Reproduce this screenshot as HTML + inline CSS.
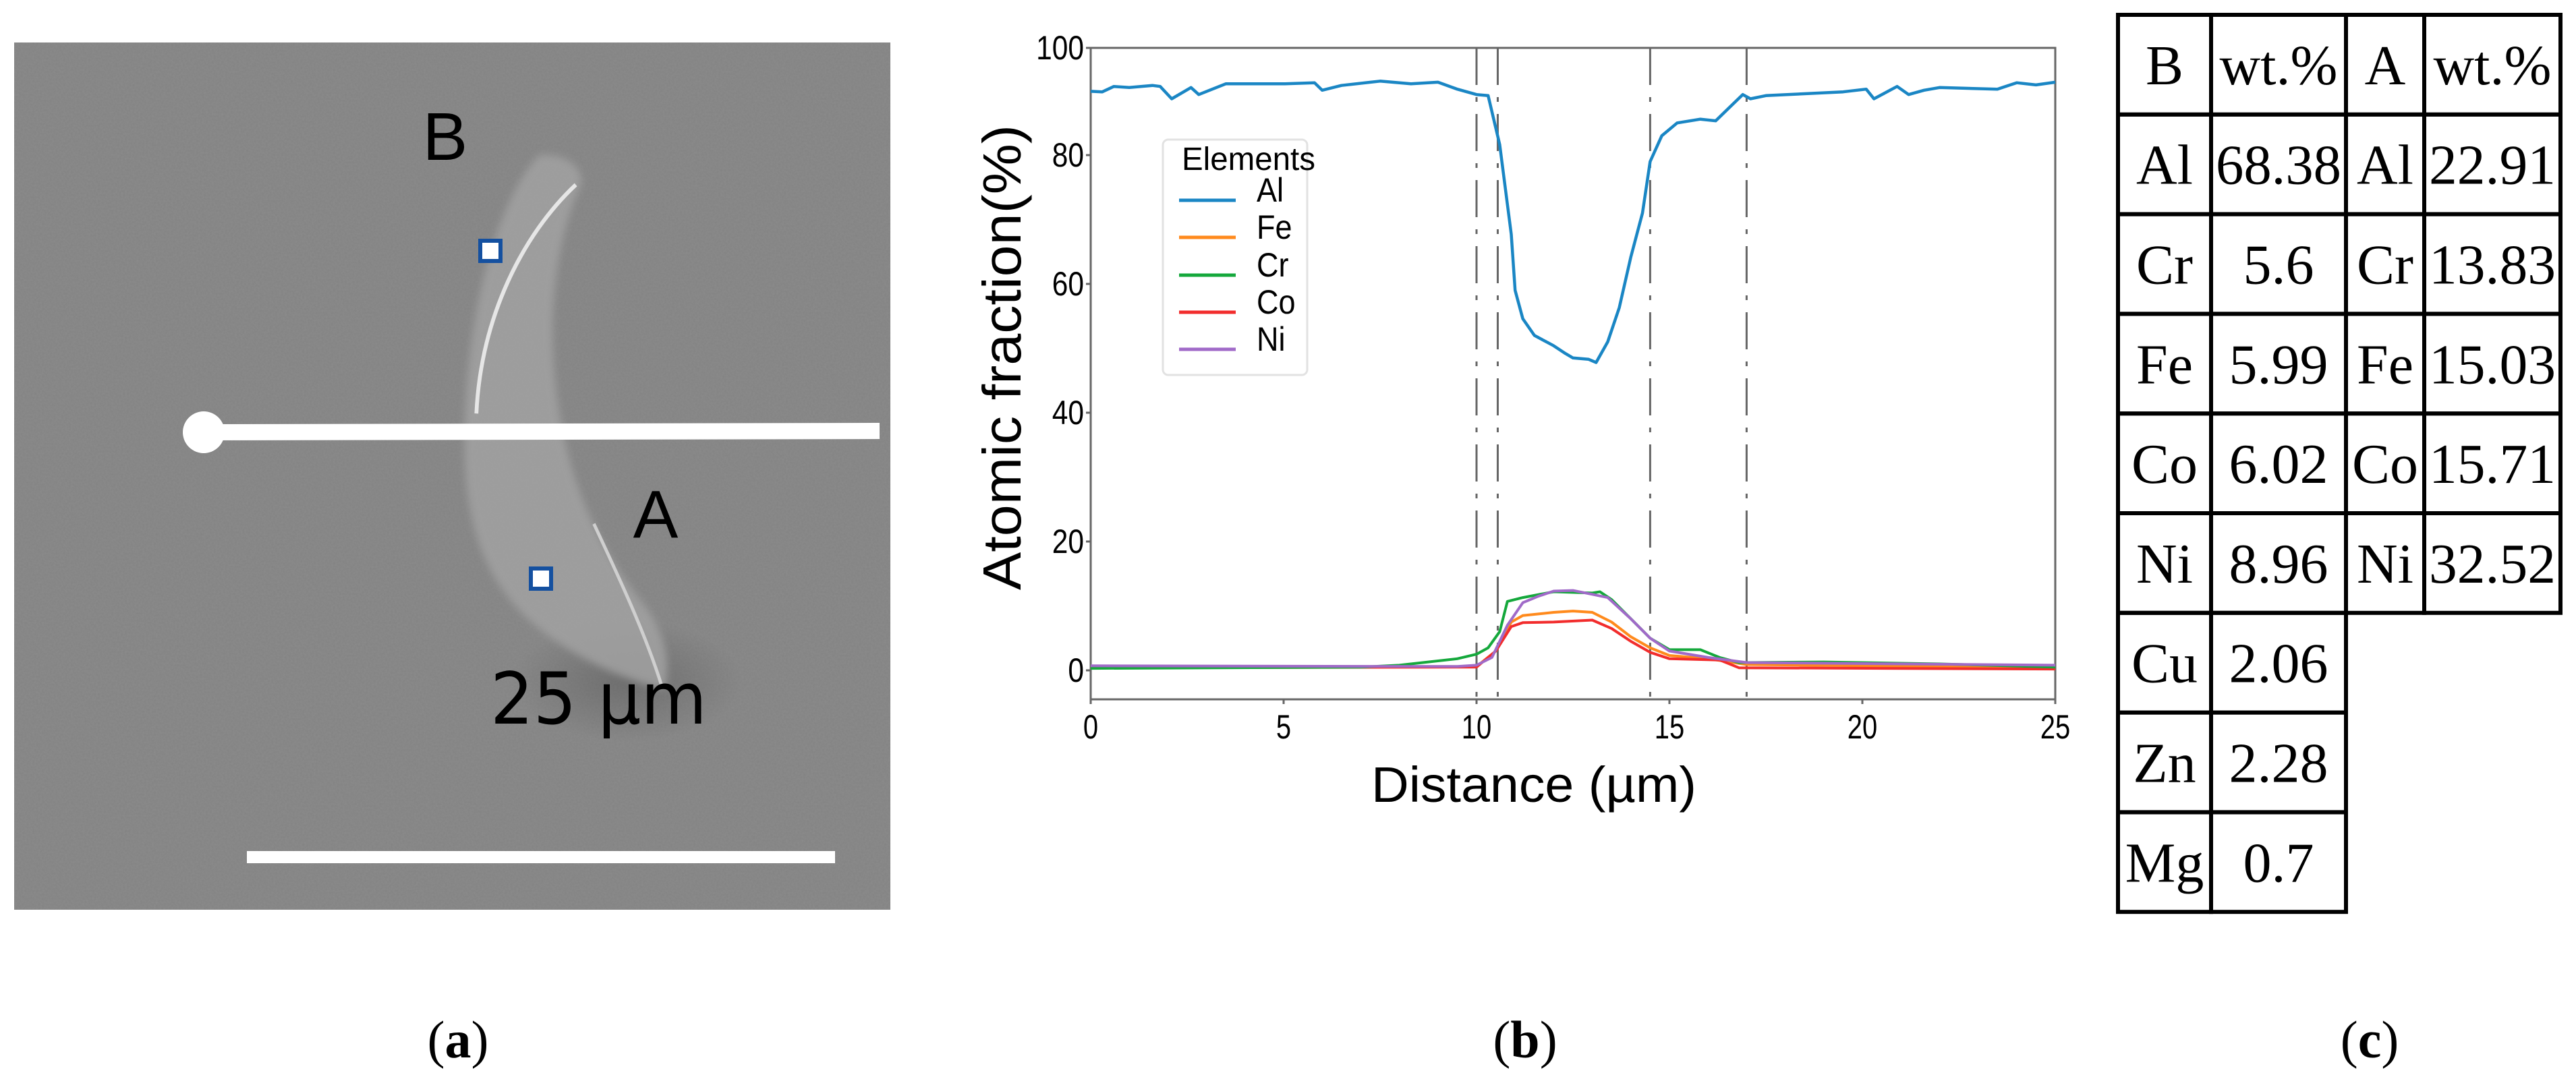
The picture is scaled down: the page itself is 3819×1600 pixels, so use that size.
<!DOCTYPE html>
<html><head><meta charset="utf-8">
<style>
html,body{margin:0;padding:0;background:#fff;}
svg{display:block;}
</style></head>
<body>
<svg id="fig" width="3819" height="1600" viewBox="0 0 3819 1600" xmlns="http://www.w3.org/2000/svg">
  <g>
    <defs>
      <filter id="noise" x="0" y="0" width="100%" height="100%">
        <feTurbulence type="fractalNoise" baseFrequency="0.35" numOctaves="2" seed="3" result="n"/>
        <feColorMatrix type="matrix" values="0 0 0 0 0.5  0 0 0 0 0.5  0 0 0 0 0.5  0 0 0 0.25 0" in="n" result="g"/>
      </filter>
      <radialGradient id="shadow" cx="0.5" cy="0.5" r="0.5">
        <stop offset="0" stop-color="#555" stop-opacity="0.5"/>
        <stop offset="1" stop-color="#555" stop-opacity="0"/>
      </radialGradient>
      <filter id="blur"><feGaussianBlur stdDeviation="6"/></filter>
    </defs>
    <rect x="21" y="63" width="1299" height="1286" fill="#838383"/>
    <rect x="21" y="63" width="1299" height="1286" filter="url(#noise)" opacity="0.6"/>
    <ellipse cx="930" cy="1010" rx="170" ry="90" fill="url(#shadow)"/>
    <g transform="scale(0.957,1.022)">
      <path d="M835,225 C880,222 905,245 900,268 C870,330 850,420 858,530 C870,690 930,800 1000,880 C1030,920 1040,960 1030,1000 C960,985 880,950 820,900 C740,830 715,740 720,610 C725,450 770,290 835,225 Z" fill="#a2a2a2" opacity="0.85" filter="url(#blur)"/>
      <path d="M892,268 C810,340 745,460 738,600" fill="none" stroke="#e6e6e6" stroke-width="6"/>
      <path d="M920,760 C960,840 1000,920 1025,995" fill="none" stroke="#cfcfcf" stroke-width="5"/>
    </g>
    <line x1="302" y1="641" x2="1304" y2="639" stroke="#fff" stroke-width="24"/>
    <circle cx="302" cy="641" r="31" fill="#fff"/>
    <rect x="712" y="357" width="30" height="30" fill="#fff" stroke="#1450a0" stroke-width="6"/>
    <rect x="787" y="843" width="30" height="30" fill="#fff" stroke="#1450a0" stroke-width="6"/>
    <text x="660" y="237" font-family="Liberation Sans, sans-serif" font-size="100" text-anchor="middle" fill="#000">B</text>
    <text x="972" y="797" font-family="Liberation Sans, sans-serif" font-size="100" text-anchor="middle" fill="#000">A</text>
    <text x="727" y="1073" font-family="DejaVu Sans, sans-serif" font-size="106" textLength="321" lengthAdjust="spacingAndGlyphs" fill="#000">25 µm</text>
    <rect x="366" y="1262" width="872" height="18" fill="#fff"/>
    <text x="679" y="1568" font-family="Liberation Serif, serif" font-size="78" text-anchor="middle">(<tspan font-weight="bold">a</tspan>)</text>
  </g>

  <g id="chart"></g>
  <text x="2261" y="1568" font-family="Liberation Serif, serif" font-size="78" text-anchor="middle">(<tspan font-weight="bold">b</tspan>)</text>

  <g id="table"></g>
  <text x="3513" y="1568" font-family="Liberation Serif, serif" font-size="78" text-anchor="middle">(<tspan font-weight="bold">c</tspan>)</text>
</svg>
<script>
const xTicks = [0, 5, 10, 15, 20, 25];
const yTicks = [0, 20, 40, 60, 80, 100];
const boundaries = [10.0, 10.55, 14.5, 17.0];
const seriesNames = ["Al", "Fe", "Cr", "Co", "Ni"];
const seriesColors = ["#1a86c4", "#ff8a1c", "#15a83c", "#f22d2d", "#a06ac8"];
const alX = [0,0.3,0.6,1.0,1.6,1.8,2.1,2.6,2.8,3.5,4,5,5.8,6.0,6.5,7.5,8.3,9.0,9.5,10.0,10.3,10.6,10.9,11.0,11.2,11.5,12.0,12.3,12.5,12.9,13.1,13.4,13.7,14.0,14.3,14.5,14.8,15.2,15.8,16.2,16.6,16.9,17.1,17.5,19.5,20.1,20.3,20.9,21.2,21.6,22,23.5,24.0,24.5,25];
const alY = [91.9,91.8,92.8,92.6,93.0,92.8,90.5,92.6,91.3,93.3,93.3,93.3,93.5,92.1,93.0,93.8,93.3,93.6,92.3,91.3,91.1,82,67.7,59,54.6,52,50.4,49.2,48.5,48.3,47.8,51,56.3,64.2,71,79,83.6,86,86.7,86.4,89.2,91.3,90.5,91.1,91.8,92.3,90.5,92.8,91.3,92.1,92.6,92.3,93.5,93.1,93.6];
const crX = [0,7,8,9.5,10,10.3,10.6,10.8,11.2,12,13,13.2,13.5,14,14.5,15,15.8,16.3,16.8,17,19,22,25];
const crY = [0.3,0.5,0.8,1.8,2.5,3.5,6,10.7,11.3,12.2,12.0,12.2,11,8,5,3.2,3.2,2,1.2,1.2,1.3,1,0.5];
const niX = [0,9.5,10,10.4,10.8,11.2,11.6,12,12.5,13,13.4,14,14.5,15,16,17,25];
const niY = [0.7,0.6,0.8,2,7,10.5,11.5,12.3,12.4,11.8,11.3,8,5,3,2,1.2,0.8];
const feX = [0,10,10.5,10.9,11.2,12,12.5,13,13.5,14,14.5,15,16,17,25];
const feY = [0.5,0.6,3,7.5,8.5,9,9.2,9,7.5,5.2,3.5,2.3,1.8,0.9,0.4];
const coX = [0,10,10.5,10.9,11.2,12,13,13.5,14,14.5,15,16.3,16.8,25];
const coY = [0.4,0.5,3,6.8,7.4,7.5,7.8,6.5,4.5,2.8,1.8,1.6,0.4,0.2];

const NS = "http://www.w3.org/2000/svg";
const L = 1617, R = 3047, T = 71, B = 1037;
function xs(v){ return L + (v/25)*(R-L); }
function ys(v){ return v <= 80 ? 994 - v*(994-230)/80 : 230 - (v-80)*(230-71)/20; }
function mk(tag, attrs, parent){ const e=document.createElementNS(NS,tag); for(const k in attrs) e.setAttribute(k,attrs[k]); parent.appendChild(e); return e; }

const chart = document.getElementById("chart");
const frame = mk("rect",{x:L,y:T,width:R-L,height:B-T,fill:"none",stroke:"#666","stroke-width":3},chart);


xTicks.forEach(t=>{
  const tk = mk("line",{x1:xs(t),x2:xs(t),y1:B,y2:B+7,stroke:"#666","stroke-width":3},chart);
  
  
  const lb = mk("text",{x:xs(t),y:B+58,"font-family":"Liberation Sans, sans-serif","font-size":50,"text-anchor":"middle",transform:`translate(${xs(t)},0) scale(0.8,1) translate(${-xs(t)},0)`},chart);
  lb.textContent = t;
  
  
});
yTicks.forEach(t=>{
  const tk = mk("line",{x1:L-7,x2:L,y1:ys(t),y2:ys(t),stroke:"#666","stroke-width":3},chart);
  
  
  const lb = mk("text",{x:1607,y:ys(t)+17,"font-family":"Liberation Sans, sans-serif","font-size":50,"text-anchor":"end",transform:`translate(1607,0) scale(0.85,1) translate(-1607,0)`},chart);
  lb.textContent = t;
  
  
});
const xt = mk("text",{x:2274,y:1189,"font-family":"Liberation Sans, sans-serif","font-size":74,"text-anchor":"middle",textLength:482,lengthAdjust:"spacingAndGlyphs"},chart);
xt.textContent = "Distance (µm)";


const yt = mk("text",{x:0,y:0,"font-family":"Liberation Sans, sans-serif","font-size":80,"text-anchor":"middle",textLength:690,lengthAdjust:"spacingAndGlyphs",transform:"translate(1513,530) rotate(-90)"},chart);
yt.textContent = "Atomic fraction(%)";


boundaries.forEach(b=>{
  const ln = mk("line",{x1:xs(b),x2:xs(b),y1:T,y2:B,stroke:"#666","stroke-width":3,"stroke-dasharray":"55 18 7 18"},chart);
  
  
});
const seriesX = [alX, feX, crX, coX, niX];
const seriesY = [alY, feY, crY, coY, niY];
const drawOrder = [1,3,2,4,0];
drawOrder.forEach(i=>{
  const pts = seriesX[i].map((x,j)=>xs(x).toFixed(1)+","+ys(seriesY[i][j]).toFixed(1)).join(" ");
  const pl = mk("polyline",{points:pts,fill:"none",stroke:seriesColors[i],"stroke-width":i===0?4.5:4,"stroke-linejoin":"round"},chart);
  
  
});
const lg = mk("g",{},chart);


mk("rect",{x:1724,y:207,width:214,height:349,rx:8,fill:"#fff",stroke:"#e2e2e2","stroke-width":3},lg);
const lt = mk("text",{x:1752,y:252,"font-family":"Liberation Sans, sans-serif","font-size":48,textLength:198,lengthAdjust:"spacingAndGlyphs"},lg);
lt.textContent = "Elements";


const legY = [297,352,408,463,518];
seriesNames.forEach((n,i)=>{
  const ln = mk("line",{x1:1748,x2:1832,y1:legY[i],y2:legY[i],stroke:seriesColors[i],"stroke-width":5},lg);
  
  
  const tx = mk("text",{x:1863,y:legY[i]+2,"font-family":"Liberation Sans, sans-serif","font-size":50,transform:"translate(1863,0) scale(0.9,1) translate(-1863,0)"},lg);
  tx.textContent = n;
  
  
});

const tableRows = [
  ["B","wt.%","A","wt.%"],
  ["Al","68.38","Al","22.91"],
  ["Cr","5.6","Cr","13.83"],
  ["Fe","5.99","Fe","15.03"],
  ["Co","6.02","Co","15.71"],
  ["Ni","8.96","Ni","32.52"],
  ["Cu","2.06"],
  ["Zn","2.28"],
  ["Mg","0.7"]
];
const colX = [3140,3278,3478,3594,3796];
const rowTop = 22, rowH = 147.8;
const tb = document.getElementById("table");
tableRows.forEach((row,r)=>{
  row.forEach((cell,c)=>{
    const x0 = colX[c], x1 = colX[c+1], y0 = rowTop + r*rowH;
    const rc = mk("rect",{x:x0,y:y0,width:x1-x0,height:rowH,fill:"none",stroke:"#000","stroke-width":6},tb);
    
    
    const tx = mk("text",{x:(x0+x1)/2,y:y0+rowH/2+29,"font-family":"Liberation Serif, serif","font-size":84,"text-anchor":"middle"},tb);
    tx.textContent = cell;
    if (cell.length>=5) { tx.setAttribute('textLength', Math.min(x1-x0-14, 190)); tx.setAttribute('lengthAdjust','spacingAndGlyphs'); }
    
    
  });
});
</script>
</body></html>
